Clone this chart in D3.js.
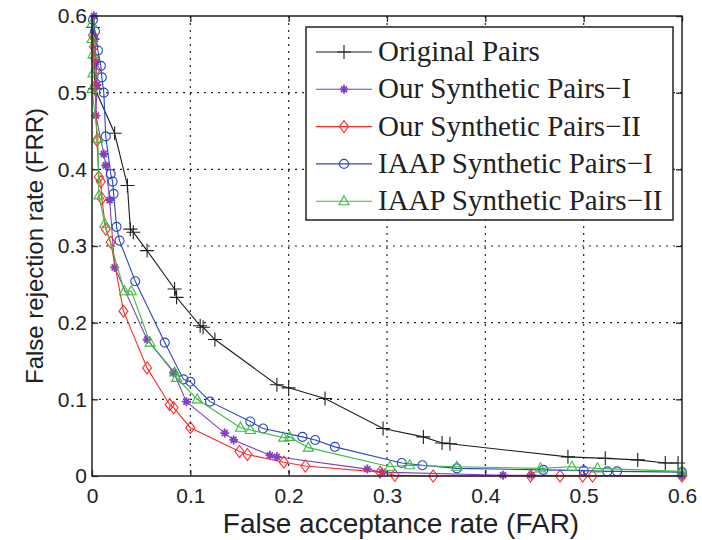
<!DOCTYPE html>
<html>
<head>
<meta charset="utf-8">
<script src="https://cdn.jsdelivr.net/npm/d3@7"></script>
<style>
  body { margin: 0; background: #fff; }
  .tick-label { font-family: "Liberation Sans", Arial, sans-serif; font-size: 21px; fill: #222; }
  .axis-title { font-family: "Liberation Sans", Arial, sans-serif; fill: #222; }
  .legend-text { font-family: "Liberation Serif", "Times New Roman", serif; font-size: 29px; fill: #222; }
</style>
</head>
<body>
<div id="chart"></div>
<script>
// ---------------- data ----------------
const xTicks = [0, 0.1, 0.2, 0.3, 0.4, 0.5, 0.6]
const yTicks = [0, 0.1, 0.2, 0.3, 0.4, 0.5, 0.6]

const seriesNames = ["Original Pairs", "Our Synthetic Pairs\u2212I", "Our Synthetic Pairs\u2212II",
                     "IAAP Synthetic Pairs\u2212I", "IAAP Synthetic Pairs\u2212II"]

const origFar = [0.001, 0.003, 0.023, 0.036, 0.039, 0.042, 0.056, 0.084, 0.086, 0.110, 0.113, 0.125,
                 0.188, 0.200, 0.237, 0.296, 0.337, 0.356, 0.364, 0.484, 0.522, 0.555, 0.583, 0.596]
const origFrr = [0.585, 0.505, 0.447, 0.379, 0.322, 0.318, 0.294, 0.244, 0.233, 0.196, 0.194, 0.178,
                 0.119, 0.115, 0.101, 0.062, 0.051, 0.043, 0.042, 0.025, 0.023, 0.021, 0.017, 0.017]

const our1Far = [0.002, 0.003, 0.004, 0.005, 0.004, 0.012, 0.014, 0.018, 0.023, 0.056, 0.083, 0.096,
                 0.135, 0.144, 0.181, 0.188, 0.280, 0.295, 0.418, 0.447, 0.600]
const our1Frr = [0.600, 0.570, 0.540, 0.510, 0.470, 0.420, 0.405, 0.360, 0.272, 0.178, 0.135, 0.097,
                 0.056, 0.047, 0.027, 0.025, 0.009, 0.005, 0.001, 0.001, 0.000]

const our2Far = [0.001, 0.002, 0.003, 0.004, 0.003, 0.005, 0.007, 0.009, 0.010, 0.014, 0.019, 0.032,
                 0.056, 0.079, 0.083, 0.100, 0.150, 0.158, 0.195, 0.217, 0.293, 0.308, 0.347, 0.446,
                 0.476, 0.499, 0.509, 0.600]
const our2Frr = [0.575, 0.560, 0.545, 0.530, 0.508, 0.438, 0.390, 0.384, 0.362, 0.322, 0.305, 0.215,
                 0.141, 0.093, 0.089, 0.063, 0.032, 0.028, 0.018, 0.013, 0.005, 0.001, 0.000, 0.000,
                 0.000, 0.000, 0.000, 0.000]

const iaap1Far = [0.001, 0.003, 0.006, 0.009, 0.010, 0.012, 0.014, 0.019, 0.021, 0.022, 0.025, 0.028,
                  0.044, 0.074, 0.093, 0.100, 0.120, 0.161, 0.174, 0.214, 0.227, 0.247, 0.315, 0.336,
                  0.371, 0.459, 0.500, 0.524, 0.534, 0.600]
const iaap1Frr = [0.595, 0.580, 0.555, 0.535, 0.520, 0.500, 0.443, 0.394, 0.384, 0.368, 0.325, 0.307,
                  0.254, 0.174, 0.126, 0.123, 0.097, 0.071, 0.062, 0.051, 0.047, 0.038, 0.017, 0.014,
                  0.010, 0.008, 0.007, 0.006, 0.006, 0.005]

const iaap2Far = [0.000, 0.000, 0.001, 0.001, 0.000, 0.006, 0.007, 0.013, 0.033, 0.040, 0.059, 0.084,
                  0.086, 0.107, 0.151, 0.161, 0.195, 0.201, 0.220, 0.303, 0.323, 0.371, 0.456, 0.488,
                  0.514, 0.600]
const iaap2Frr = [0.590, 0.570, 0.550, 0.525, 0.505, 0.440, 0.366, 0.329, 0.241, 0.241, 0.174, 0.135,
                  0.128, 0.100, 0.063, 0.060, 0.050, 0.051, 0.037, 0.012, 0.014, 0.012, 0.010, 0.012,
                  0.010, 0.006]

// ---------------- layout ----------------
const WIDTH = 702
const HEIGHT = 540
const PLOT_LEFT = 92
const PLOT_RIGHT = 682
const PLOT_TOP = 16
const PLOT_BOTTOM = 476
const TICK_LEN = 6

const COLORS = ["#1e1e1e", "#8040c0", "#ff2a2a", "#2a48c0", "#3cbc3c"]
const MARKERS = [
  "M-7,0H7M0,-7V7",                                  // plus
  "M-4.5,0H4.5M0,-4.5V4.5M-3,-3L3,3M-3,3L3,-3",      // asterisk
  "M0,-6L4.5,0L0,6L-4.5,0Z",                         // diamond
  "M4.5,0A4.5,4.5 0 1 1 -4.5,0A4.5,4.5 0 1 1 4.5,0Z", // circle
  "M0,-5.5L5,3.5L-5,3.5Z"                            // triangle
]

const seriesData = [
  d3.zip(origFar, origFrr),
  d3.zip(our1Far, our1Frr),
  d3.zip(our2Far, our2Frr),
  d3.zip(iaap1Far, iaap1Frr),
  d3.zip(iaap2Far, iaap2Frr)
]

const svg = d3.select("#chart").append("svg")
  .attr("width", WIDTH)
  .attr("height", HEIGHT)

const x = d3.scaleLinear().domain([0, 0.6]).range([PLOT_LEFT, PLOT_RIGHT])
const y = d3.scaleLinear().domain([0, 0.6]).range([PLOT_BOTTOM, PLOT_TOP])

// grid (dotted)
const grid = svg.append("g").attr("stroke", "#222").attr("stroke-width", 1.2)
  .attr("stroke-dasharray", "2,5")
grid.selectAll(".gx").data(xTicks.slice(1, -1)).join("line")
  .attr("x1", d => x(d)).attr("x2", d => x(d))
  .attr("y1", PLOT_TOP).attr("y2", PLOT_BOTTOM)
grid.selectAll(".gy").data(yTicks.slice(1, -1)).join("line")
  .attr("class", "gy")
  .attr("y1", d => y(d)).attr("y2", d => y(d))
  .attr("x1", PLOT_LEFT).attr("x2", PLOT_RIGHT)

// axes: ticks point inward on all four sides
const fmt = d => d === 0 ? "0" : d3.format(".1f")(d)
const xAxisB = d3.axisBottom(x).tickValues(xTicks).tickSize(-TICK_LEN).tickPadding(12).tickFormat(fmt)
const xAxisT = d3.axisTop(x).tickValues(xTicks).tickSize(-TICK_LEN).tickFormat("")
const yAxisL = d3.axisLeft(y).tickValues(yTicks).tickSize(-TICK_LEN).tickPadding(5).tickFormat(fmt)
const yAxisR = d3.axisRight(y).tickValues(yTicks).tickSize(-TICK_LEN).tickFormat("")

function styleAxis(g) {
  g.select(".domain").remove()
  g.selectAll(".tick line").attr("stroke", "#222").attr("stroke-width", 1.3)
  g.selectAll(".tick text").attr("class", "tick-label").attr("font-family", null).attr("font-size", null)
}
svg.append("g").attr("transform", `translate(0,${PLOT_BOTTOM})`).call(xAxisB).call(styleAxis)
svg.append("g").attr("transform", `translate(0,${PLOT_TOP})`).call(xAxisT).call(styleAxis)
svg.append("g").attr("transform", `translate(${PLOT_LEFT},0)`).call(yAxisL).call(styleAxis)
svg.append("g").attr("transform", `translate(${PLOT_RIGHT},0)`).call(yAxisR).call(styleAxis)

// curves
const line = d3.line().x(d => x(d[0])).y(d => y(d[1]))
const curves = svg.append("g")
seriesData.forEach((data, i) => {
  const g = curves.append("g")
  g.append("path").datum(data)
    .attr("d", line)
    .attr("fill", "none")
    .attr("stroke", COLORS[i])
    .attr("stroke-width", 1.1)
  g.selectAll("path.m").data(data).join("path")
    .attr("class", "m")
    .attr("d", MARKERS[i])
    .attr("transform", d => `translate(${x(d[0])},${y(d[1])})`)
    .attr("fill", "none")
    .attr("stroke", COLORS[i])
    .attr("stroke-width", i === 1 ? 1.8 : 1.1)
})

// plot frame
svg.append("rect")
  .attr("x", PLOT_LEFT).attr("y", PLOT_TOP)
  .attr("width", PLOT_RIGHT - PLOT_LEFT).attr("height", PLOT_BOTTOM - PLOT_TOP)
  .attr("fill", "none").attr("stroke", "#222").attr("stroke-width", 1.5)

// axis titles
svg.append("text").attr("class", "axis-title")
  .attr("x", 401).attr("y", 533)
  .attr("font-size", 28)
  .attr("text-anchor", "middle")
  .text("False acceptance rate (FAR)")
svg.append("text").attr("class", "axis-title")
  .attr("transform", `translate(43,246) rotate(-90)`)
  .attr("font-size", 24)
  .attr("text-anchor", "middle")
  .text("False rejection rate (FRR)")

// legend
const LEG_X = 306, LEG_Y = 27, LEG_W = 367, LEG_H = 193, ROW_H = 37.3
const legend = svg.append("g")
legend.append("rect")
  .attr("x", LEG_X).attr("y", LEG_Y).attr("width", LEG_W).attr("height", LEG_H)
  .attr("fill", "#fff").attr("stroke", "#222").attr("stroke-width", 1.5)
seriesNames.forEach((name, i) => {
  const cy = LEG_Y + 25 + i * ROW_H
  legend.append("line")
    .attr("x1", LEG_X + 10).attr("x2", LEG_X + 66)
    .attr("y1", cy).attr("y2", cy)
    .attr("stroke", COLORS[i]).attr("stroke-width", 1.1)
  legend.append("path")
    .attr("d", MARKERS[i])
    .attr("transform", `translate(${LEG_X + 38},${cy})`)
    .attr("fill", "none").attr("stroke", COLORS[i])
    .attr("stroke-width", i === 1 ? 1.8 : 1.1)
  legend.append("text").attr("class", "legend-text")
    .attr("x", LEG_X + 72).attr("y", cy + 9)
    .text(name)
})
</script>
</body>
</html>
